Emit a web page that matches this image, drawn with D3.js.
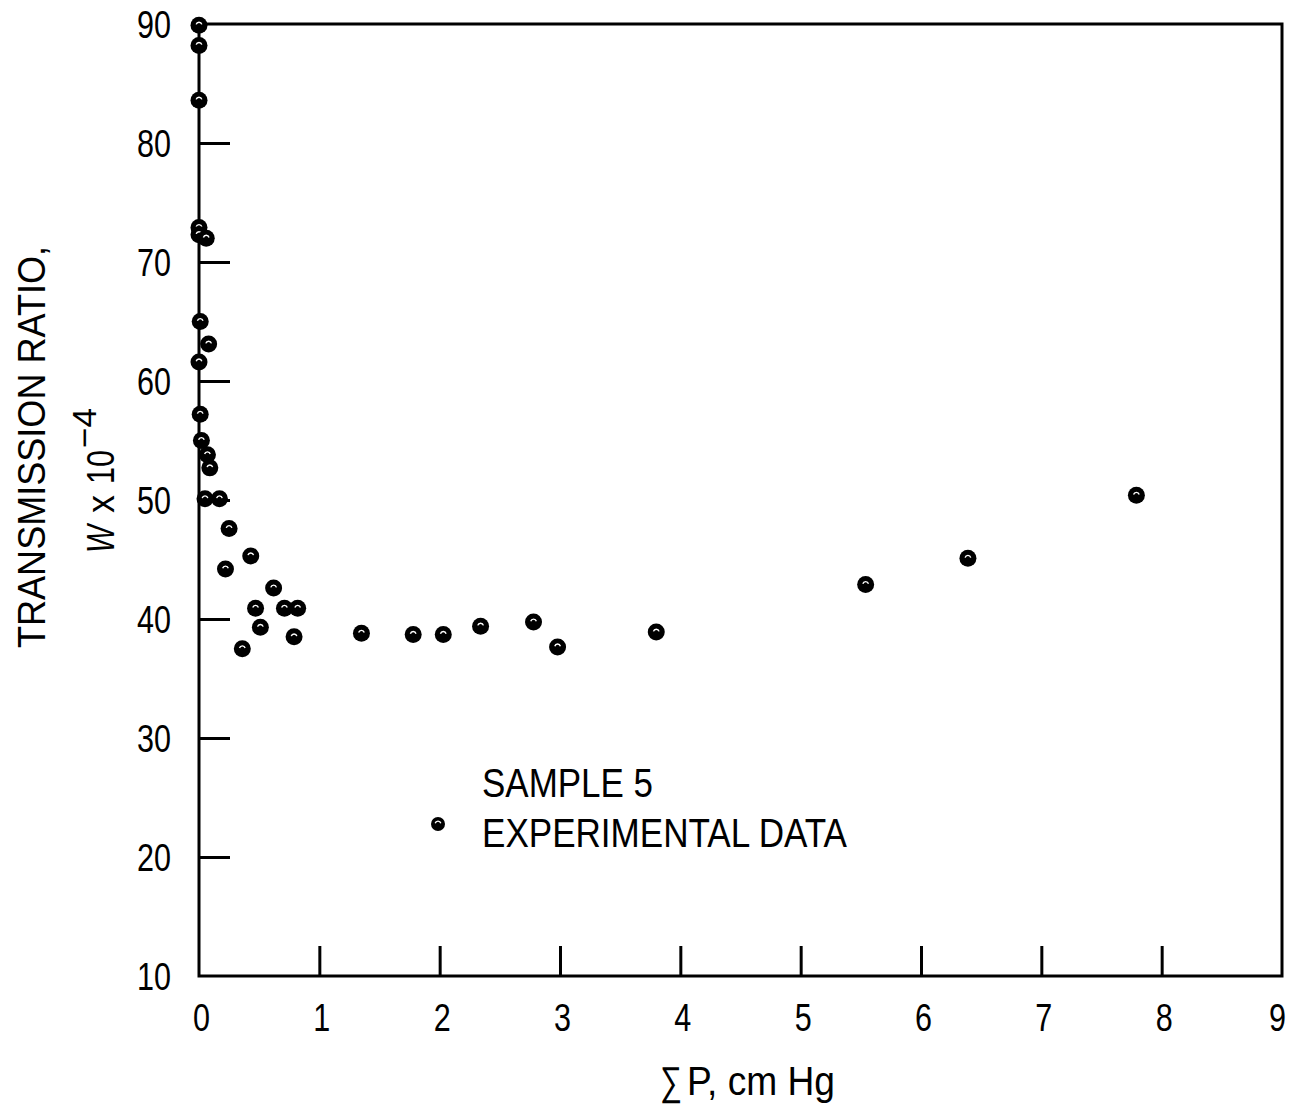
<!DOCTYPE html>
<html>
<head>
<meta charset="utf-8">
<script src="https://cdn.jsdelivr.net/npm/d3@7"></script>
<style>
  html, body { margin: 0; padding: 0; background: #fff; }
  svg { display: block; }
  text { font-family: "Liberation Sans", "DejaVu Sans", sans-serif; fill: #000; }
</style>
</head>
<body>
<svg id="chart" width="1290" height="1110"></svg>
<script>
// Sample 5: total pressure (cm Hg) vs transmission ratio W x 10^-4
const pressure = [0, 0, 0, 0, 0, 0.06, 0.01, 0.08, 0, 0.01, 0.02, 0.07, 0.09, 0.05, 0.17,
  0.25, 0.43, 0.22, 0.62, 0.47, 0.71, 0.82, 0.51, 0.79, 0.36,
  1.35, 1.78, 2.03, 2.34, 2.78, 2.98, 3.80, 5.54, 6.39, 7.79];
const ratio = [89.9, 88.2, 83.6, 72.9, 72.3, 72.0, 65.0, 63.1, 61.6, 57.2, 55.0, 53.8, 52.7, 50.1, 50.1,
  47.6, 45.3, 44.2, 42.6, 40.9, 40.9, 40.9, 39.3, 38.5, 37.5,
  38.8, 38.7, 38.7, 39.4, 39.75, 37.65, 38.9, 42.9, 45.1, 50.4];
const xTicks = [0, 1, 2, 3, 4, 5, 6, 7, 8, 9];
const yTicks = [10, 20, 30, 40, 50, 60, 70, 80, 90];

const svg = d3.select("#chart");
const x = d3.scaleLinear().domain([0, 9]).range([199, 1282]);
const y = d3.scaleLinear().domain([10, 90]).range([976, 24]);

// narrow lettering: squeeze each string to a set width
function squeeze(sel, width) {
  sel.attr("textLength", width).attr("lengthAdjust", "spacingAndGlyphs");
}
const digitW = 17;

// frame
svg.append("rect")
  .attr("x", x(0)).attr("y", y(90))
  .attr("width", x(9) - x(0)).attr("height", y(10) - y(90))
  .attr("fill", "none").attr("stroke", "#000").attr("stroke-width", 3);

// inward tick marks (interior only), labels at every value
const yAxis = svg.append("g").attr("transform", `translate(${x(0)},0)`)
  .call(d3.axisLeft(y).tickValues(yTicks).tickSizeInner(-31).tickSizeOuter(0).tickPadding(28));
yAxis.select(".domain").remove();
yAxis.selectAll(".tick line").attr("stroke", "#000").attr("stroke-width", 3)
  .attr("display", d => (d === 10 || d === 90) ? "none" : null);
yAxis.selectAll(".tick text").attr("font-size", 38).attr("font-family", null).attr("dy", "0.36em")
  .each(function (d) { squeeze(d3.select(this), String(d).length * digitW); });

const xAxis = svg.append("g").attr("transform", `translate(0,${y(10)})`)
  .call(d3.axisBottom(x).tickValues(xTicks).tickSizeInner(-30).tickSizeOuter(0).tickPadding(27));
xAxis.select(".domain").remove();
xAxis.selectAll(".tick line").attr("stroke", "#000").attr("stroke-width", 3)
  .attr("display", d => (d === 0 || d === 9) ? "none" : null);
xAxis.selectAll(".tick text").attr("font-size", 39).attr("font-family", null).attr("dy", "0.71em")
  .attr("x", d => d === 9 ? -5 : 2)
  .each(function (d) { squeeze(d3.select(this), String(d).length * digitW); });

// markers: solid dot with a small open arc
const arc = d3.arc().innerRadius(2.2).outerRadius(3.6).startAngle(-Math.PI / 2.4).endAngle(Math.PI / 2.4);
function marker(sel, r) {
  sel.append("circle").attr("r", r).attr("fill", "#000");
  sel.append("path").attr("d", arc()).attr("fill", "#fff");
}
const pts = svg.append("g").selectAll("g")
  .data(pressure.map((p, i) => ({ p, w: ratio[i] })))
  .join("g")
  .attr("transform", d => `translate(${x(d.p)},${y(d.w)})`);
pts.each(function () { marker(d3.select(this), 8.5); });

// axis titles
const xt = svg.append("text").attr("x", 660).attr("y", 1095).attr("font-size", 40);
xt.append("tspan").attr("textLength", 22).attr("lengthAdjust", "spacingAndGlyphs").text("∑");
xt.append("tspan").attr("dx", 5).attr("textLength", 148).attr("lengthAdjust", "spacingAndGlyphs").text("P, cm Hg");

svg.append("text")
  .attr("transform", "translate(45,648) rotate(-90)")
  .attr("font-size", 38)
  .call(squeeze, 402)
  .text("TRANSMISSION RATIO,");

const t2 = svg.append("text")
  .attr("transform", "translate(114,553) rotate(-90)")
  .attr("font-size", 38);
t2.append("tspan").attr("font-style", "italic").attr("textLength", 28).attr("lengthAdjust", "spacingAndGlyphs").text("W");
t2.append("tspan").attr("dx", 12).attr("textLength", 18).attr("lengthAdjust", "spacingAndGlyphs").text("x");
t2.append("tspan").attr("dx", 11).attr("textLength", 34).attr("lengthAdjust", "spacingAndGlyphs").text("10");
t2.append("tspan").attr("font-size", 34).attr("dy", -18).attr("dx", 2)
  .attr("textLength", 40).attr("lengthAdjust", "spacingAndGlyphs").text("\u2212" + "4");

// legend
svg.append("text").attr("x", 482).attr("y", 797)
  .attr("font-size", 40).call(squeeze, 171).text("SAMPLE 5");
const lg = svg.append("g").attr("transform", "translate(438,824)");
marker(lg, 7);
svg.append("text").attr("x", 482).attr("y", 847)
  .attr("font-size", 40).call(squeeze, 365).text("EXPERIMENTAL DATA");
</script>
</body>
</html>
